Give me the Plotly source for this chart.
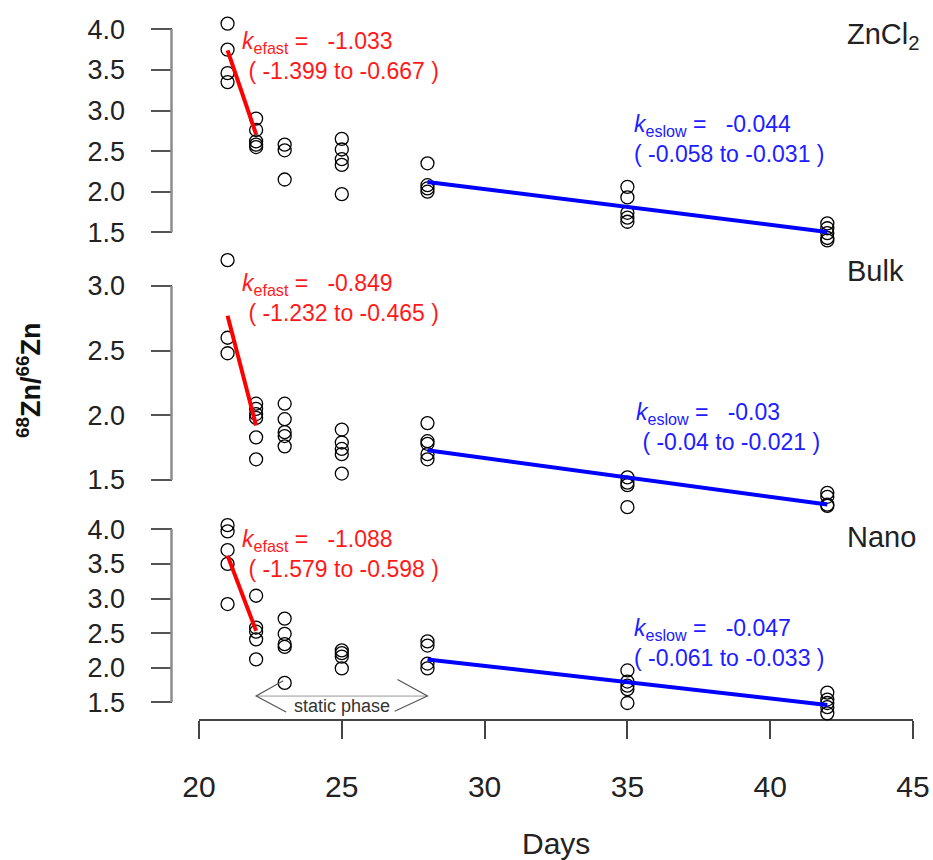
import plotly.graph_objects as go

# ---- data -----------------------------------------------------------------
panels = ["ZnCl<sub>2</sub>", "Bulk", "Nano"]

zncl2_days = [21, 21, 21, 21,
              22, 22, 22, 22, 22,
              23, 23, 23,
              25, 25, 25, 25, 25,
              28, 28, 28, 28,
              35, 35, 35, 35, 35,
              42, 42, 42, 42, 42]
zncl2_ratio = [4.07, 3.75, 3.46, 3.35,
               2.90, 2.76, 2.62, 2.58, 2.55,
               2.58, 2.51, 2.15,
               2.65, 2.52, 2.40, 2.33, 1.97,
               2.35, 2.08, 2.04, 2.00,
               2.06, 1.93, 1.74, 1.68, 1.63,
               1.61, 1.55, 1.49, 1.43, 1.40]

bulk_days = [21, 21, 21,
             22, 22, 22, 22, 22, 22,
             23, 23, 23, 23, 23,
             25, 25, 25, 25, 25,
             28, 28, 28, 28, 28,
             35, 35, 35, 35,
             42, 42, 42, 42]
bulk_ratio = [3.20, 2.60, 2.48,
              2.09, 2.05, 2.01, 1.98, 1.83, 1.66,
              2.09, 1.97, 1.87, 1.84, 1.76,
              1.89, 1.79, 1.74, 1.70, 1.55,
              1.94, 1.80, 1.78, 1.70, 1.66,
              1.52, 1.48, 1.46, 1.29,
              1.40, 1.37, 1.31, 1.30]

nano_days = [21, 21, 21, 21, 21,
             22, 22, 22, 22, 22,
             23, 23, 23, 23, 23,
             25, 25, 25, 25,
             28, 28, 28, 28,
             35, 35, 35, 35, 35,
             42, 42, 42, 42, 42]
nano_ratio = [4.06, 3.97, 3.70, 3.50, 2.92,
              3.04, 2.58, 2.52, 2.41, 2.12,
              2.71, 2.49, 2.34, 2.30, 1.78,
              2.25, 2.21, 2.16, 1.99,
              2.38, 2.32, 2.06, 1.99,
              1.96, 1.80, 1.74, 1.69, 1.49,
              1.64, 1.54, 1.49, 1.43, 1.34]

# elimination-rate fits: fast phase (day 21-22), slow phase (day 28-42)
fast_days = [21, 22]
slow_days = [28, 42]
k_fast = [-1.033, -0.849, -1.088]
k_fast_ci = [(-1.399, -0.667), (-1.232, -0.465), (-1.579, -0.598)]
k_slow = [-0.044, -0.030, -0.047]
k_slow_ci = [(-0.058, -0.031), (-0.04, -0.021), (-0.061, -0.033)]
fast_start = [3.74, 2.77, 3.62]     # fitted value at day 21
slow_start = [2.12, 1.73, 2.12]     # fitted value at day 28

x_ticks = [20, 25, 30, 35, 40, 45]
y_ticks = [[1.5, 2.0, 2.5, 3.0, 3.5, 4.0],
           [1.5, 2.0, 2.5, 3.0],
           [1.5, 2.0, 2.5, 3.0, 3.5, 4.0]]

# ---- geometry --------------------------------------------------------------
W, H = 933, 860
FONT = "Liberation Sans, Arial, sans-serif"


def px_x(p):
    return p / W


def px_y(p):
    return 1 - p / H


# (top tick value, its pixel row, bottom tick value, its pixel row, range)
panel_geom = [
    (4.0, 29.3, 1.5, 232.3, (1.3, 4.2)),
    (3.0, 286.0, 1.5, 480.0, (1.2, 3.3)),
    (4.0, 529.3, 1.5, 702.3, (1.2, 4.2)),
]


def y_domain(v_top, p_top, v_bot, p_bot, lo, hi):
    s = (p_bot - p_top) / (v_top - v_bot)
    top_px = p_top - (hi - v_top) * s
    bot_px = p_bot + (v_bot - lo) * s
    return [px_y(bot_px), px_y(top_px)]


fig = go.Figure()

series = [(zncl2_days, zncl2_ratio), (bulk_days, bulk_ratio), (nano_days, nano_ratio)]
yrefs = ["y", "y2", "y3"]

for i, (d, r) in enumerate(series):
    yr = yrefs[i]
    fig.add_trace(go.Scatter(
        x=d, y=r, mode="markers", yaxis=yr, cliponaxis=False,
        marker=dict(symbol="circle-open", size=13, color="black",
                    line=dict(width=1.3, color="black")),
        showlegend=False, hoverinfo="x+y"))
    fy = [fast_start[i], fast_start[i] + k_fast[i] * (fast_days[1] - fast_days[0])]
    fig.add_trace(go.Scatter(
        x=fast_days, y=fy, mode="lines", yaxis=yr,
        line=dict(color="#ff0000", width=4), showlegend=False))
    sy = [slow_start[i], slow_start[i] + k_slow[i] * (slow_days[1] - slow_days[0])]
    fig.add_trace(go.Scatter(
        x=slow_days, y=sy, mode="lines", yaxis=yr,
        line=dict(color="#0000ff", width=4), showlegend=False))

layout_axes = {}
AXIS_X = px_x(171.5)
for i, (vt, pt, vb, pb, rng) in enumerate(panel_geom):
    name = "yaxis" if i == 0 else f"yaxis{i + 1}"
    layout_axes[name] = dict(
        domain=y_domain(vt, pt, vb, pb, *rng), range=list(rng),
        anchor="free", position=AXIS_X, showline=False, showgrid=False,
        zeroline=False, ticks="outside", ticklen=21, tickwidth=1.5,
        tickcolor="#555555", tickvals=y_ticks[i], tickformat=".1f",
        ticklabelstandoff=20, automargin=False,
        tickfont=dict(family=FONT, size=27, color="#222222"))

fig.update_layout(
    width=W, height=H,
    margin=dict(l=0, r=0, t=0, b=0, pad=0, autoexpand=False),
    paper_bgcolor="white", plot_bgcolor="rgba(0,0,0,0)",
    xaxis=dict(domain=[px_x(199), px_x(913)], range=[20, 45],
               anchor="free", position=px_y(720), showline=True,
               linecolor="#444444", linewidth=1.5, showgrid=False,
               zeroline=False, ticks="outside", ticklen=18, tickwidth=1.5,
               tickcolor="#444444", tickvals=x_ticks, ticklabelstandoff=22,
               automargin=False,
               tickfont=dict(family=FONT, size=30, color="#222222")),
    **layout_axes,
)

# y-axis lines spanning first to last tick only
shapes = []
for i, yr in enumerate(yrefs):
    shapes.append(dict(type="line", xref="paper", yref=yr,
                       x0=AXIS_X, x1=AXIS_X,
                       y0=y_ticks[i][0], y1=y_ticks[i][-1],
                       line=dict(color="#8c8c8c", width=2.5)))

# double-headed "static phase" arrow between day 22 and day 28 (Nano panel)
arrow_c = dict(color="#555555", width=1.2)
shapes.append(dict(type="line", xref="x", yref="y3", x0=22, x1=28, y0=1.59, y1=1.59,
                   line=dict(color="#999999", width=1)))
shapes.append(dict(type="path", xref="x", yref="y3",
                   path="M 22.95,1.81 L 22,1.59 L 23.05,1.36", line=arrow_c))
shapes.append(dict(type="path", xref="x", yref="y3",
                   path="M 26.95,1.83 L 28,1.59 L 26.85,1.37", line=arrow_c))
fig.update_layout(shapes=shapes)

NB = "\u00a0"
RED, BLUE = "#ff1a1a", "#2020ff"
ann = []


def txt(x, y, s, color, size=24, anchor="left", **kw):
    ann.append(dict(xref="paper", yref="paper", x=px_x(x), y=px_y(y), text=s,
                    showarrow=False, xanchor=anchor, yanchor="middle",
                    align="left", font=dict(family=FONT, size=size, color=color),
                    borderpad=0, **kw))


# (left px, centre row px, indent of the interval line)
red_pos = [(241, 56, NB), (241, 298, NB), (241, 554, NB)]
blue_pos = [(633, 139, ""), (635, 427, NB), (633, 643, "")]

for i in range(3):
    x, y, ind = red_pos[i]
    txt(x, y, f"<i>k</i><sub>efast</sub> ={NB*3}{k_fast[i]:g}<br>"
              f"{ind}({NB}{k_fast_ci[i][0]:g} to {k_fast_ci[i][1]:g}{NB})", RED, size=23)
    x, y, ind = blue_pos[i]
    txt(x, y, f"<i>k</i><sub>eslow</sub> ={NB*3}{k_slow[i]:g}<br>"
              f"{ind}({NB}{k_slow_ci[i][0]:g} to {k_slow_ci[i][1]:g}{NB})", BLUE, size=23)

label_y = [36, 271, 537]
for i, name in enumerate(panels):
    txt(846, label_y[i], name, "#222222", size=29)

txt(341.5, 706, "static phase", "#333333", size=18, anchor="center")
txt(556, 843, "Days", "#222222", size=30, anchor="center")
ann.append(dict(xref="paper", yref="paper", x=px_x(29), y=px_y(380),
                text="<b><sup>68</sup>Zn/<sup>66</sup>Zn</b>", textangle=-90,
                showarrow=False, xanchor="center", yanchor="middle",
                font=dict(family=FONT, size=27, color="#111111")))
fig.update_layout(annotations=ann)

fig.write_html("out.html")
